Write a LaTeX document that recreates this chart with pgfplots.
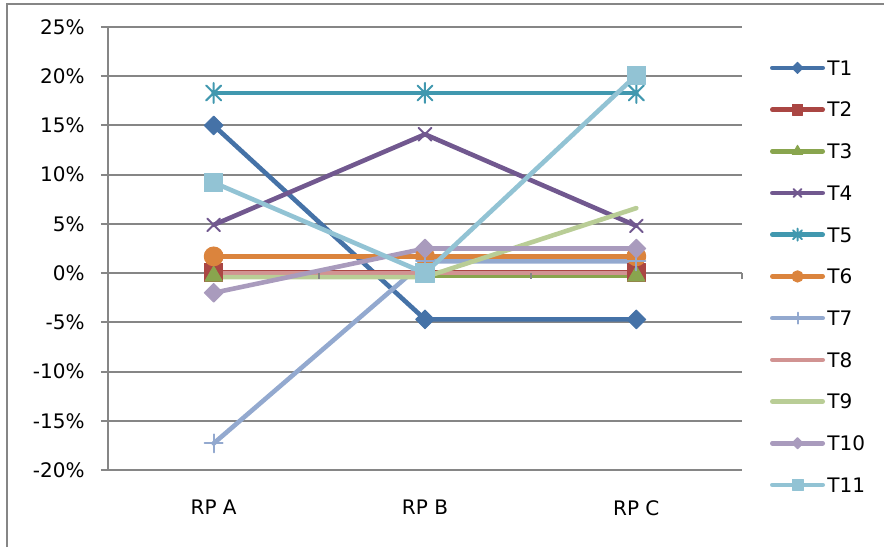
\documentclass[border=0pt]{standalone}
\usepackage{fontspec}
\setmainfont{DejaVu Sans}
\usepackage{pgfplots}
\pgfplotsset{compat=1.18}

% Office 2007 line-chart palette
\definecolor{cT1}{HTML}{4572A7}
\definecolor{cT2}{HTML}{AA4643}
\definecolor{cT3}{HTML}{89A54E}
\definecolor{cT4}{HTML}{71588F}
\definecolor{cT5}{HTML}{4198AF}
\definecolor{cT6}{HTML}{DB843D}
\definecolor{cT7}{HTML}{93A9CF}
\definecolor{cT8}{HTML}{D19392}
\definecolor{cT9}{HTML}{B9CD96}
\definecolor{cT10}{HTML}{A99BBD}
\definecolor{cT11}{HTML}{92C3D4}
\definecolor{gridgray}{HTML}{868686}

% star marker: vertical stroke plus a diagonal cross
\pgfdeclareplotmark{xstar}{%
  \pgfpathmoveto{\pgfqpoint{0pt}{\pgfplotmarksize}}%
  \pgfpathlineto{\pgfqpoint{0pt}{-\pgfplotmarksize}}%
  \pgfpathmoveto{\pgfqpoint{-.75\pgfplotmarksize}{.75\pgfplotmarksize}}%
  \pgfpathlineto{\pgfqpoint{.75\pgfplotmarksize}{-.75\pgfplotmarksize}}%
  \pgfpathmoveto{\pgfqpoint{-.75\pgfplotmarksize}{-.75\pgfplotmarksize}}%
  \pgfpathlineto{\pgfqpoint{.75\pgfplotmarksize}{.75\pgfplotmarksize}}%
  \pgfusepathqstroke}

\begin{document}
\begin{tikzpicture}[x=1pt,y=1pt]
\useasboundingbox (0,0) rectangle (442,273.5);
% chart frame
\draw[gridgray, line width=1pt] (3.5,0) -- (3.5,271.5) -- (442,271.5);
\begin{axis}[
  at={(54pt,38.5pt)}, anchor=south west,
  scale only axis, width=317pt, height=221.5pt,
  xmin=-0.5, xmax=2.5, ymin=-20, ymax=25,
  xtick={0,1,2}, xticklabels={RP A, RP B, RP C},
  ytick={-20,-15,...,25},
  yticklabels={-20\%,-15\%,-10\%,-5\%,0\%,5\%,10\%,15\%,20\%,25\%},
  ymajorgrids, grid style={gridgray, line width=1pt},
  axis lines*=left,
  x axis line style={draw=none},
  y axis line style={gridgray, line width=1pt},
  tick align=outside,
  major tick length=3.5pt,
  xtick style={draw=none},
  ytick style={gridgray, line width=1pt},
  tick label style={font=\fontsize{10}{12}\selectfont},
  yticklabel style={inner sep=0pt, xshift=-8pt},
  xticklabel style={inner sep=0pt, anchor=north, yshift=-11.5pt},
  clip=false,
  legend style={at={(1.0442,0.437)}, anchor=west, draw=none, fill=none,
    inner sep=0pt, outer sep=0pt, row sep=10.15pt, column sep=1.2pt,
    font=\fontsize{10}{12}\selectfont,
    nodes={inner sep=0pt, text height=9pt, text depth=1.7pt, anchor=west}},
  legend cell align=left,
  legend image code/.code={\draw[mark repeat=2, mark phase=2, #1, every mark/.append style={scale=0.6}]
    plot coordinates {(0pt,0pt) (12.6pt,0pt) (25.2pt,0pt)};},
  every axis plot/.append style={line width=2.3pt, line join=round, line cap=round},
]
\addplot[cT1, mark=square*, mark size=3.3pt, mark options={rotate=45, line width=0.5pt}]
  coordinates {(0,15.0) (1,-4.7) (2,-4.7)};
\addplot[cT2, mark=square*, mark size=4.5pt, mark options={line width=0.5pt}]
  coordinates {(0,0.1) (1,0.1) (2,0.1)};
\addplot[cT3, mark=triangle*, mark size=5pt, mark options={line width=0.5pt}]
  coordinates {(0,-0.3) (1,-0.3) (2,-0.3)};
\addplot[cT4, mark=x, mark size=4.5pt, mark options={line width=1pt}]
  coordinates {(0,4.9) (1,14.1) (2,4.8)};
\addplot[cT5, mark=xstar, mark size=5pt, mark options={line width=1pt}]
  coordinates {(0,18.3) (1,18.3) (2,18.3)};
\addplot[cT6, mark=*, mark size=4.7pt, mark options={line width=0.5pt}]
  coordinates {(0,1.7) (1,1.7) (2,1.7)};
\addplot[cT7, mark=+, mark size=4.5pt, mark options={line width=1pt}]
  coordinates {(0,-17.3) (1,1.2) (2,1.2)};
\addplot[cT8, no marks]
  coordinates {(0,0.0) (1,0.0) (2,0.0)};
\addplot[cT9, no marks]
  coordinates {(0,-0.4) (1,-0.4) (2,6.6)};
\addplot[cT10, mark=square*, mark size=3.3pt, mark options={rotate=45, line width=0.5pt}]
  coordinates {(0,-2.0) (1,2.5) (2,2.5)};
\addplot[cT11, mark=square*, mark size=4.6pt, mark options={line width=0.5pt}]
  coordinates {(0,9.2) (1,0.0) (2,20.1)};
\legend{T1,T2,T3,T4,T5,T6,T7,T8,T9,T10,T11}
% category separators on the zero line
\draw[gridgray, line width=1pt] (axis cs:0.5,0) -- ([yshift=-3pt]axis cs:0.5,0);
\draw[gridgray, line width=1pt] (axis cs:1.5,0) -- ([yshift=-3pt]axis cs:1.5,0);
\draw[gridgray, line width=1pt] (axis cs:2.5,0) -- ([yshift=-3pt]axis cs:2.5,0);
\end{axis}
\end{tikzpicture}
\end{document}
